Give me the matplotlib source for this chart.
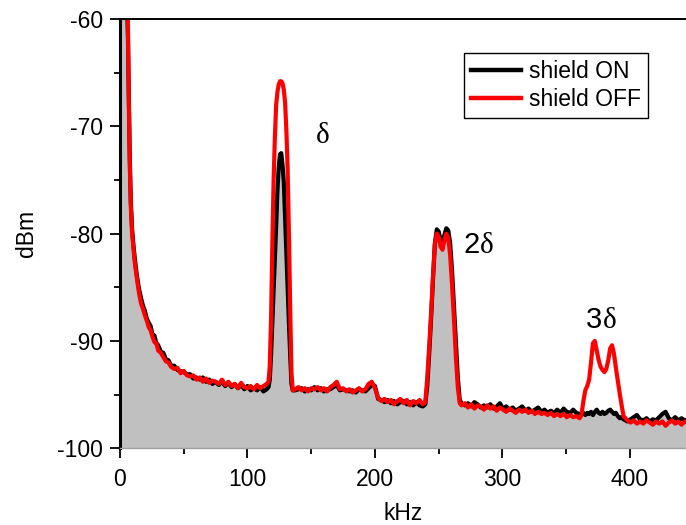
import matplotlib
matplotlib.use('Agg')
import matplotlib.pyplot as plt
import numpy as np
from matplotlib.ticker import MultipleLocator

# ---------------- data ----------------
freq_decay = [0, 1.5, 3, 4.5, 5.5, 6.2, 6.9, 7.7, 8.5, 9.5, 10.5, 11.5, 12.5, 13.5, 15, 16.5,
              18, 19.5, 21, 22.5, 24, 25.5, 27, 28.5, 30, 32, 34, 36, 38, 40, 42.5, 45, 47.5,
              50, 52.5, 55, 57.5, 60, 62.5, 65, 67.5, 70, 72.5, 75, 77.5, 80, 82.5, 85, 87.5,
              90, 92.5, 95, 97.5, 100, 102.5, 105, 107.5, 110, 112.5, 115]
freq_peak1 = [116.5, 117.5, 118.5, 119.5, 120.5, 121.5, 122.5, 123.5, 124.5, 125.5, 126.5,
              127.5, 128.5, 129.5, 130.5, 131.5, 132.5, 133.5, 134.5, 135.5]
freq_base2 = [137.5, 140, 142.5, 145, 147.5, 150, 152.5, 155, 157.5, 160, 162.5, 165, 167.5,
              170, 172.5, 175, 177.5, 180, 182.5, 185, 187.5, 190, 192.5, 195, 197.5, 200,
              202.5, 205, 207.5, 210, 212.5, 215, 217.5, 220, 222.5, 225, 227.5, 230, 232.5,
              235, 237.5]
freq_peak2 = [239.5, 241, 242.5, 244, 245.5, 247, 248.5, 250, 251.5, 253, 254.5, 256, 257.5,
              259, 260.5, 262, 263.5, 265, 266.5]
freq_base3 = [268, 270.5, 273, 275.5, 278, 280.5, 283, 285.5, 288, 290.5, 293, 295.5, 298,
              300.5, 303, 305.5, 308, 310.5, 313, 315.5, 318, 320.5, 323, 325.5, 328, 330.5,
              333, 335.5, 338, 340.5, 343, 345.5, 348, 350.5, 353, 355.5, 358, 360.5]
freq_peak3 = [362, 363.5, 365, 366.5, 368, 369.5, 371, 372.5, 374, 375.5, 377, 378.5, 380,
              381.5, 383, 384.5, 386, 387.5, 389, 390.5, 392, 393.5, 395, 396.5]
freq_base4 = [398, 400.5, 403, 405.5, 408, 410.5, 413, 415.5, 418, 420.5, 423, 425.5, 428,
              430.5, 433, 435.5, 438, 440.5, 443, 445.5]

on_decay = [-40, -45, -50, -55, -58.5, -61.5, -67, -73, -77, -79.6, -81.0, -82.2, -83.2, -84.1,
            -85.2, -86.0, -86.7, -87.2, -87.9, -88.3, -88.6, -89.4, -89.5, -90.2, -90.4, -91.0,
            -91.1, -91.7, -91.8, -92.3, -92.3, -92.7, -92.8, -92.9, -93.1, -93.1, -93.5, -93.4,
            -93.6, -93.4, -93.8, -93.6, -94.0, -93.8, -94.1, -93.8, -94.2, -93.9, -94.3, -94.0,
            -94.4, -94.1, -94.5, -94.2, -94.6, -94.4, -94.6, -94.3, -94.7, -94.5]
on_peak1 = [-94.3, -93.6, -91.3, -88.3, -85.3, -82.3, -79.3, -76.0, -73.8, -72.6, -72.5, -73.6,
            -75.2, -78.5, -81.8, -85.0, -88.3, -91.3, -94.0, -94.6]
on_base2 = [-94.6, -94.5, -94.4, -94.7, -94.5, -94.6, -94.3, -94.6, -94.4, -94.7, -94.5, -94.5,
            -94.3, -94.1, -94.6, -94.5, -94.6, -94.7, -94.6, -94.8, -94.5, -94.6, -94.7, -94.4,
            -94.1, -94.2, -95.4, -95.5, -95.7, -95.5, -95.8, -95.6, -95.9, -95.7, -95.6, -95.9,
            -95.7, -96.0, -95.7, -96.0, -96.1]
on_peak2 = [-95.9, -94.2, -91.3, -88.0, -84.3, -80.9, -79.6, -79.8, -80.6, -80.9, -80.1, -79.5,
            -79.7, -80.9, -83.5, -86.8, -90.2, -93.4, -95.5]
on_base3 = [-95.8, -96.0, -95.8, -96.1, -95.7, -95.9, -96.2, -96.0, -96.2, -95.9, -96.3, -96.1,
            -95.8, -96.3, -96.1, -96.4, -96.2, -96.5, -96.3, -96.1, -96.5, -96.3, -96.6, -96.4,
            -96.2, -96.6, -96.4, -96.7, -96.5, -96.7, -96.4, -96.7, -96.3, -96.6, -96.7, -96.4,
            -96.7, -96.8]
on_peak3 = [-96.8, -96.7, -96.9, -96.7, -96.8, -96.6, -96.9, -96.6, -96.4, -96.7, -96.8, -96.6,
            -96.8, -96.7, -96.5, -96.4, -96.6, -96.8, -96.7, -97.0, -97.2, -97.1, -97.3, -97.4]
on_base4 = [-97.5, -97.3, -97.1, -96.9, -97.3, -97.4, -97.2, -97.5, -97.3, -97.4, -97.1, -96.8,
            -96.6, -97.2, -97.4, -97.1, -97.4, -97.2, -97.4, -97.3]

off_decay = [-40, -45, -50, -54, -57.5, -60.5, -67.6, -73.8, -77.5, -80.0, -81.3, -82.6, -83.5,
             -84.4, -85.6, -86.5, -87.0, -87.6, -88.1, -88.7, -89.0, -89.6, -90.1, -90.2, -90.9,
             -91.1, -91.5, -91.9, -92.0, -92.4, -92.6, -92.5, -93.0, -92.8, -93.2, -93.3, -93.2,
             -93.6, -93.4, -93.8, -93.5, -93.9, -93.7, -93.8, -94.0, -93.6, -94.1, -93.8, -94.2,
             -94.0, -94.4, -93.9, -94.3, -94.4, -94.2, -94.5, -94.1, -94.4, -94.2, -94.0]
off_peak1 = [-93.8, -92.3, -88.0, -81.0, -75.0, -71.0, -68.0, -66.8, -66.1, -65.8, -65.8, -66.0,
             -66.6, -67.8, -70.3, -74.0, -80.0, -87.0, -93.0, -94.6]
off_base2 = [-94.5, -94.3, -94.6, -94.4, -94.7, -94.4, -94.5, -94.3, -94.6, -94.4, -94.7, -94.3,
             -94.1, -93.8, -94.5, -94.4, -94.7, -94.5, -94.8, -94.6, -94.4, -94.7, -94.5, -94.0,
             -93.8, -94.4, -95.3, -95.6, -95.4, -95.7, -95.5, -95.9, -95.6, -95.4, -95.8, -95.5,
             -96.0, -95.6, -95.8, -95.5, -95.9]
off_peak2 = [-95.7, -93.5, -90.6, -87.5, -84.0, -81.0, -80.0, -80.3, -81.2, -81.5, -80.6, -80.0,
             -80.4, -82.0, -84.8, -88.0, -91.5, -94.3, -95.8]
off_base3 = [-96.0, -95.8, -96.2, -95.9, -96.3, -96.0, -96.1, -96.4, -96.0, -96.3, -96.1, -96.5,
             -96.2, -96.4, -96.6, -96.3, -96.5, -96.7, -96.4, -96.6, -96.4, -96.7, -96.5, -96.8,
             -96.6, -96.8, -96.7, -96.9, -96.7, -97.0, -96.8, -97.0, -96.8, -97.1, -96.9, -97.1,
             -97.0, -97.2]
off_peak3 = [-96.9, -95.6, -94.6, -94.2, -93.6, -92.0, -90.2, -90.0, -90.9, -91.8, -92.4, -92.7,
             -92.9, -92.6, -91.8, -90.7, -90.4, -91.2, -92.5, -93.7, -94.9, -96.0, -97.0, -97.2]
off_base4 = [-97.4, -97.6, -97.4, -97.7, -97.5, -97.7, -97.4, -97.6, -97.8, -97.5, -97.7, -97.5,
             -97.9, -97.6, -97.4, -97.7, -97.5, -97.8, -97.5, -97.6]

series_labels = ['shield ON', 'shield OFF']
peak_digits = ['', '2', '3']
peak_pos = [(153.5, -71.6), (282.5, -81.8), (378.5, -88.8)]

freq = np.array(freq_decay + freq_peak1 + freq_base2 + freq_peak2 + freq_base3 + freq_peak3 + freq_base4)
shield_on = np.array(on_decay + on_peak1 + on_base2 + on_peak2 + on_base3 + on_peak3 + on_base4)
shield_off = np.array(off_decay + off_peak1 + off_base2 + off_peak2 + off_base3 + off_peak3 + off_base4)

# ---------------- figure ----------------
plt.rcParams['font.family'] = ['Liberation Sans', 'DejaVu Sans']
plt.rcParams['axes.unicode_minus'] = False
W, H = 686, 525
fig = plt.figure(figsize=(W / 100, H / 100), dpi=100)
ax = fig.add_axes([120 / W, 1 - 448.3 / H, 1 - 120 / W, (448.3 - 19) / H])

ax.fill_between(freq, shield_on, -100, color='#c0c0c0', lw=0, zorder=1)
ax.plot(freq, shield_on, color='black', lw=3.0, label=series_labels[0], zorder=3,
        solid_joinstyle='round')
ax.plot(freq, shield_off, color='#ff0000', lw=3.0, label=series_labels[1], zorder=4,
        solid_joinstyle='round')

ax.set_xlim(0, 444)
ax.set_ylim(-100, -60)
ax.xaxis.set_major_locator(MultipleLocator(100))
ax.xaxis.set_minor_locator(MultipleLocator(50))
ax.yaxis.set_major_locator(MultipleLocator(10))
ax.yaxis.set_minor_locator(MultipleLocator(5))
ax.tick_params(which='major', direction='out', length=7, width=1.3, labelsize=16.5,
               colors='black')
ax.tick_params(axis='y', which='major', pad=5)
ax.tick_params(axis='x', which='major', pad=7)
ax.tick_params(which='minor', direction='out', length=4, width=1.3)

ax.spines['right'].set_visible(False)
ax.spines['left'].set_linewidth(2.2)
ax.spines['top'].set_linewidth(1.4)
ax.spines['bottom'].set_linewidth(1.0)
ax.spines['bottom'].set_color('#a0a0a0')
for s in ax.spines.values():
    s.set_zorder(5)

ax.set_xlabel('kHz', fontsize=16.5, labelpad=8)
ax.set_ylabel('dBm', fontsize=16.5, labelpad=14)

leg = ax.legend(loc='upper left', bbox_to_anchor=(464 / W, 1 - 52.7 / H),
                bbox_transform=fig.transFigure, frameon=True, fancybox=False,
                edgecolor='black', framealpha=1, fontsize=16.5, handlelength=2.2,
                handletextpad=0.35, borderpad=0.3, labelspacing=0.25, borderaxespad=0)
leg.get_frame().set_linewidth(1.0)
for line in leg.get_lines():
    line.set_linewidth(3.2)

for d, (px, py) in zip(peak_digits, peak_pos):
    if d:
        ax.text(px, py, d, fontsize=21, ha='right', va='baseline',
                family=['Liberation Sans', 'DejaVu Sans'], zorder=6)
    ax.text(px, py, '\u03b4', fontsize=21, ha='left', va='baseline',
            family=['Liberation Serif', 'DejaVu Serif'], zorder=6)

fig.savefig('out.png', dpi=100)
